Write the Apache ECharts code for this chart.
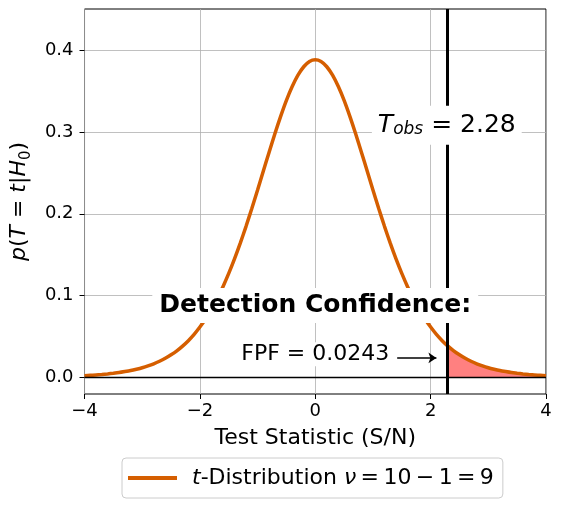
<!DOCTYPE html>
<html>
<head>
<meta charset="utf-8">
<script src="https://cdn.jsdelivr.net/npm/echarts@6/dist/echarts.min.js"></script>
<style>
  html, body { margin: 0; padding: 0; background: #fff; }
  #chart { width: 562px; height: 505px; }
</style>
</head>
<body>
<div id="chart"></div>
<script>
// t-distribution curve (nu = 9)
const tValues = [
  -4, -3.9, -3.8, -3.7, -3.6, -3.5, -3.4, -3.3, -3.2, -3.1, -3, -2.9, -2.8, -2.7, -2.6, -2.5, -2.4, -2.3, -2.2, -2.1,
  -2, -1.9, -1.8, -1.7, -1.6, -1.5, -1.4, -1.3, -1.2, -1.1, -1, -0.9, -0.8, -0.7, -0.6, -0.5, -0.4, -0.3, -0.2, -0.1,
  0, 0.1, 0.2, 0.3, 0.4, 0.5, 0.6, 0.7, 0.8, 0.9, 1, 1.1, 1.2, 1.3, 1.4, 1.5, 1.6, 1.7, 1.8, 1.9,
  2, 2.1, 2.2, 2.28, 2.4, 2.5, 2.6, 2.7, 2.8, 2.9, 3, 3.1, 3.2, 3.3, 3.4, 3.5, 3.6, 3.7, 3.8, 3.9, 4]
const pdfValues = [
  0.0023, 0.0028, 0.0032, 0.0038, 0.0045, 0.0053, 0.0062, 0.0074, 0.0087, 0.0103, 0.0121, 0.0143, 0.0169, 0.0200, 0.0236, 0.0278, 0.0327, 0.0385, 0.0451, 0.0528,
  0.0617, 0.0719, 0.0834, 0.0964, 0.1110, 0.1272, 0.1449, 0.1641, 0.1847, 0.2065, 0.2291, 0.2522, 0.2752, 0.2977, 0.3189, 0.3384, 0.3553, 0.3692, 0.3795, 0.3859,
  0.3880, 0.3859, 0.3795, 0.3692, 0.3553, 0.3384, 0.3189, 0.2977, 0.2752, 0.2522, 0.2291, 0.2065, 0.1847, 0.1641, 0.1449, 0.1272, 0.1110, 0.0964, 0.0834, 0.0719,
  0.0617, 0.0528, 0.0451, 0.0397, 0.0327, 0.0278, 0.0236, 0.0200, 0.0169, 0.0143, 0.0121, 0.0103, 0.0087, 0.0074, 0.0062, 0.0053, 0.0045, 0.0038, 0.0032, 0.0028, 0.0023]

const tObs = 2.28
const yTicks = [0, 0.1, 0.2, 0.3, 0.4]

// annotation anchors in data units
const tObsLabelPos = [2.28, 0.308]
const detectLabelPos = [0, 0.088]
const fpfLabelPos = [0, 0.0285]
const fpfArrow = [[1.42, 0.024], [2.1, 0.024]]

const FONT = 'DejaVu Sans'
const ORANGE = '#d55e00'
const THIN = '\u2009'

const curve = tValues.map((t, i) => [t, pdfValues[i]])
const tail = curve.filter(p => p[0] >= tObs)

const chart = echarts.init(document.getElementById('chart'), null, { renderer: 'canvas' })

chart.setOption({
  animation: false,
  backgroundColor: '#fff',
  textStyle: { fontFamily: FONT },
  grid: {
    left: 81, right: 16, top: 9, bottom: 111,
    show: true, borderColor: '#000', borderWidth: 1,
  },
  legend: {
    data: [{ name: 'tdist', icon: 'rect', itemStyle: { color: ORANGE } }],
    left: 122,
    top: 458,
    padding: [9, 9, 9, 6],
    itemWidth: 49,
    itemHeight: 4,
    borderColor: '#cccccc',
    borderWidth: 1,
    borderRadius: 4,
    backgroundColor: '#fff',
    formatter: () => `{f|t}{n|-Distribution }{i|ν}{n|${THIN}=${THIN}10${THIN}−${THIN}1${THIN}=${THIN}9}`,
    textStyle: {
      fontFamily: FONT,
      fontSize: 22,
      color: '#000',
      rich: {
        f: { fontFamily: FONT, fontSize: 22, fontStyle: 'italic', color: '#000', padding: [0, 0, 0, 10] },
        i: { fontFamily: FONT, fontSize: 22, fontStyle: 'italic', color: '#000' },
        n: { fontFamily: FONT, fontSize: 22, color: '#000' },
      },
    },
  },
  xAxis: {
    type: 'value',
    min: -4, max: 4, interval: 2,
    name: 'Test Statistic (S/N)',
    nameLocation: 'middle',
    nameGap: 33,
    nameTextStyle: { fontFamily: FONT, fontSize: 22, color: '#000' },
    axisLine: { show: false, onZero: false },
    axisTick: { show: true, length: 5, lineStyle: { color: '#000', width: 1 } },
    axisLabel: {
      margin: 8, fontFamily: FONT, fontSize: 18, color: '#000',
      formatter: v => String(v).replace('-', '−'),
    },
    splitLine: { show: true, lineStyle: { color: '#b0b0b0', width: 0.8 } },
  },
  yAxis: {
    type: 'value',
    min: -0.02, max: 0.45,
    name: '{i|p}{n|(}{i|T}{n| = }{i|t}{n||}{i|H}{s|0}{n|)}',
    nameLocation: 'middle',
    nameGap: 50,
    nameTextStyle: {
      fontFamily: FONT, fontSize: 22, color: '#000',
      rich: {
        i: { fontFamily: FONT, fontSize: 22, fontStyle: 'italic', color: '#000' },
        n: { fontFamily: FONT, fontSize: 22, color: '#000' },
        s: { fontFamily: FONT, fontSize: 15, color: '#000', verticalAlign: 'bottom', lineHeight: 30 },
      },
    },
    axisLine: { show: false, onZero: false },
    axisTick: { show: true, length: 5, customValues: yTicks, lineStyle: { color: '#000', width: 1 } },
    axisLabel: {
      margin: 11, fontFamily: FONT, fontSize: 18, color: '#000',
      customValues: yTicks,
      formatter: v => v.toFixed(1),
    },
    splitLine: { show: true, lineStyle: { color: '#b0b0b0', width: 0.8 } },
  },
  series: [
    {
      name: 'tail',
      type: 'line',
      data: tail,
      smooth: 0.25,
      symbol: 'none',
      lineStyle: { width: 0 },
      areaStyle: { color: '#ff8080', opacity: 1 },
      z: 2,
    },
    {
      name: 'tdist',
      type: 'line',
      data: curve,
      smooth: 0.25,
      symbol: 'none',
      lineStyle: { color: ORANGE, width: 3.5 },
      itemStyle: { color: ORANGE },
      z: 3,
    },
    {
      name: 'guides',
      type: 'line',
      data: [],
      z: 4,
      markLine: {
        silent: true,
        animation: false,
        label: { show: false },
        data: [
          [{ coord: [-4, 0], symbol: 'none' }, { coord: [4, 0], symbol: 'none', lineStyle: { color: '#000', width: 1.3, type: 'solid' } }],
          [{ xAxis: tObs, yAxis: -0.02, symbol: 'none' }, { xAxis: tObs, yAxis: 0.45, symbol: 'none', lineStyle: { color: '#000', width: 3, type: 'solid' } }],
          [{ coord: fpfArrow[0], symbol: 'none' }, { coord: fpfArrow[1], symbol: 'arrow', symbolSize: [8, 8], lineStyle: { color: '#000', width: 1.5, type: 'solid' } }],
        ],
        lineStyle: { color: '#000', type: 'solid' },
      },
    },
    {
      name: 'notes',
      type: 'scatter',
      symbolSize: 0.01,
      itemStyle: { opacity: 1 },
      z: 10,
      data: [
        {
          value: tObsLabelPos,
          label: {
            show: true, position: 'inside', color: '#000',
            formatter: '{i|T}{sub|obs}{n| = 2.28}',
            backgroundColor: '#fff', padding: [7, 6, 7, 6],
            rich: {
              i: { fontFamily: FONT, fontSize: 25, fontStyle: 'italic', color: '#000', lineHeight: 25, padding: [0, 0, 5, 0], verticalAlign: 'top' },
              sub: { fontFamily: FONT, fontSize: 17, fontStyle: 'italic', color: '#000', lineHeight: 17, verticalAlign: 'bottom' },
              n: { fontFamily: FONT, fontSize: 25, color: '#000', lineHeight: 25, padding: [0, 0, 5, 0], verticalAlign: 'top' },
            },
          },
        },
        {
          value: detectLabelPos,
          label: {
            show: true, position: 'inside',
            formatter: 'Detection Confidence:',
            fontFamily: FONT, fontSize: 25, fontWeight: 'bold', color: '#000',
            backgroundColor: '#fff', padding: [5, 7, 5, 7],
          },
        },
        {
          value: fpfLabelPos,
          label: {
            show: true, position: 'inside',
            formatter: 'FPF = 0.0243',
            fontFamily: FONT, fontSize: 22, color: '#000',
            backgroundColor: '#fff', padding: [1, 1, 1, 1],
          },
        },
      ],
    },
  ],
})
</script>
</body>
</html>
